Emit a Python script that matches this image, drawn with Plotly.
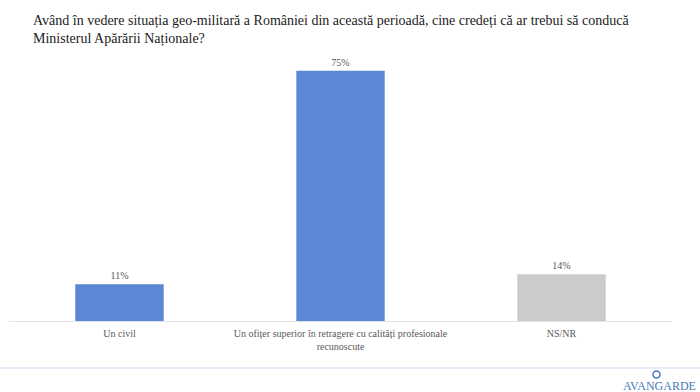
import plotly.graph_objects as go

categories = ["Un civil", "Un ofițer superior în retragere cu calități profesionale<br>recunoscute", "NS/NR"]
values = [11, 75, 14]
labels = ["11%", "75%", "14%"]
colors = ["#5B87D6", "#5B87D6", "#CBCBCB"]

W, H = 700, 392
L, R, T, B = 9, 28, 54, 71
pw, ph = W - L - R, H - T - B
FONT = "Liberation Serif"

def px(x):
    return (x - L) / pw

def py(y):
    return (H - B - y) / ph

fig = go.Figure(go.Bar(
    x=categories, y=values, marker=dict(color=colors, line=dict(width=0)),
    text=labels, textposition="outside", cliponaxis=False,
    textfont=dict(family=FONT, size=10, color="#595959"),
    width=0.4,
))

fig.update_layout(
    width=W, height=H, margin=dict(l=L, r=R, t=T, b=B, autoexpand=False),
    paper_bgcolor="white", plot_bgcolor="white", showlegend=False,
    font=dict(family=FONT),
    xaxis=dict(showgrid=False, showline=True, linecolor="#E3E3E3", linewidth=1,
               tickfont=dict(family=FONT, size=10, color="#595959"),
               ticks="", fixedrange=True, automargin=False, ticklabelstandoff=3),
    yaxis=dict(range=[0, 80], visible=False, showgrid=False, zeroline=False, automargin=False),
    bargap=0.6,
)

fig.add_annotation(
    text="Având în vedere situația geo-militară a României din această perioadă, cine credeți că ar trebui să conducă<br>Ministerul Apărării Naționale?",
    xref="paper", yref="paper", x=px(31), y=py(11), xanchor="left", yanchor="top",
    showarrow=False, align="left",
    font=dict(family=FONT, size=14, color="#222222"),
)

fig.add_shape(type="line", xref="paper", yref="paper", x0=px(0), x1=px(700), y0=py(368), y1=py(368),
              line=dict(color="#DCE8F6", width=1.5))
fig.add_shape(type="circle", xref="paper", yref="paper", x0=px(653), x1=px(660), y0=py(371), y1=py(378),
              line=dict(color="#4A7AB8", width=1.5))
fig.add_annotation(text="AVANGARDE", xref="paper", yref="paper", x=px(659), y=py(386),
                   xanchor="center", yanchor="middle", showarrow=False,
                   font=dict(family=FONT, size=12, color="#4A7AB8"))

fig.write_html("out.html", config={"displayModeBar": False},
               post_script="document.body.style.margin='0';")
